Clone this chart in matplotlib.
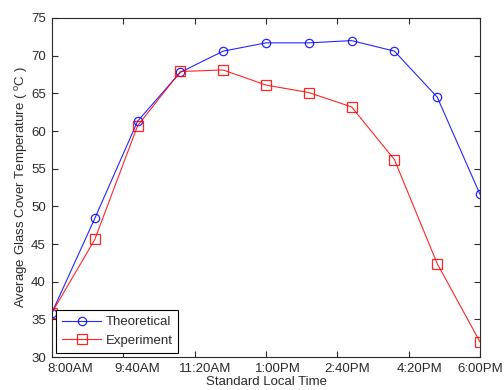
#!/usr/bin/env python3
import matplotlib as mpl

mpl.use("Agg")
import matplotlib.pyplot as plt
from matplotlib.transforms import ScaledTranslation

# minutes after 8:00AM
minutes = [0, 60, 120, 180, 240, 300, 360, 420, 480, 540, 600]
theoretical = [35.9, 48.4, 61.3, 67.8, 70.6, 71.7, 71.7, 72.0, 70.6, 64.5, 51.6]
experiment = [35.9, 45.6, 60.7, 67.9, 68.1, 66.1, 65.1, 63.2, 56.2, 42.4, 32.0]

tick_pos = [0, 100, 200, 300, 400, 500, 600]
tick_labels = ["8:00AM", "9:40AM", "11:20AM", "1:00PM", "2:40PM", "4:20PM", "6:00PM"]
# the source figure has its labels sitting right of the ticks (pixels)
label_shift = [18, 14, 10, 12, 10, 11, 0]

INK = "#2b2b2b"

mpl.rcParams.update(
    {
        "font.family": ["Liberation Sans", "DejaVu Sans"],
        "font.size": 9.5,
        "mathtext.fontset": "custom",
        "mathtext.rm": "Liberation Sans",
        "mathtext.it": "Liberation Sans",
        "axes.linewidth": 0.8,
        "xtick.direction": "in",
        "ytick.direction": "in",
        "xtick.top": True,
        "ytick.right": True,
        "xtick.major.size": 4,
        "ytick.major.size": 4,
    }
)

fig = plt.figure(figsize=(5.04, 3.9), dpi=100)
ax = fig.add_axes([52 / 504, 33 / 390, 428 / 504, 339 / 390])

ax.plot(minutes, theoretical, color="#0000ff", lw=0.8, marker="o", ms=6,
        mfc="none", mec="#0000ff", mew=0.9, label="Theoretical", alpha=0.85)
ax.plot(minutes, experiment, color="#ff0000", lw=0.8, marker="s", ms=6.5,
        mfc="none", mec="#ff0000", mew=0.9, label="Experiment", alpha=0.85)

ax.set_xlim(0, 600)
ax.set_ylim(30, 75)
ax.set_xticks(tick_pos)
ax.set_xticklabels(tick_labels)
ax.set_yticks(range(30, 80, 5))
ax.tick_params(colors=INK, width=0.8)
ax.tick_params(axis="y", pad=4.5)
ax.tick_params(axis="x", pad=4)
for sp in ax.spines.values():
    sp.set_color(INK)

for lab, dx in zip(ax.get_xticklabels(), label_shift):
    lab.set_transform(lab.get_transform() + ScaledTranslation(dx / 100, 0, fig.dpi_scale_trans))

ax.set_xlabel("Standard Local Time", color=INK, labelpad=1)
ax.set_ylabel(r"Average Glass Cover Temperature ( $^{\rm o}$C )", color=INK, labelpad=1)

leg = ax.legend(loc="lower left", fancybox=False, edgecolor="black", framealpha=1,
                handlelength=3.0, borderaxespad=0.3, handletextpad=0.3,
                borderpad=0.45, labelspacing=0.5)
leg.get_frame().set_linewidth(0.8)
for t in leg.get_texts():
    t.set_color(INK)

fig.savefig("out.png", dpi=100)
